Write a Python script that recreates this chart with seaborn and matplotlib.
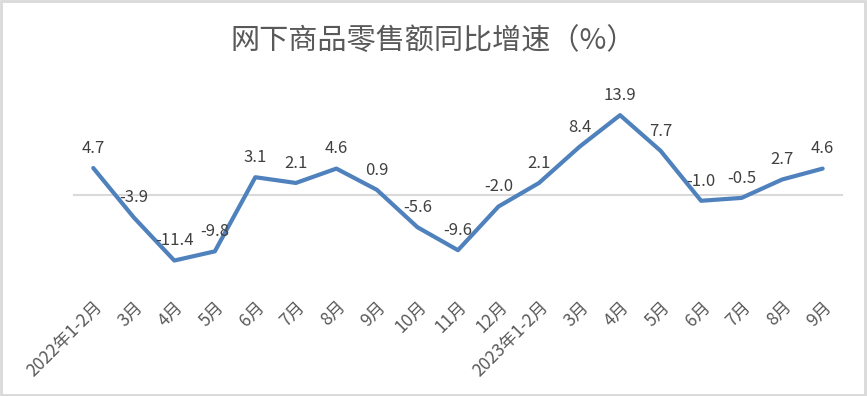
import numpy as np
import pandas as pd
import matplotlib.pyplot as plt
import seaborn as sns
from matplotlib.patches import Rectangle

#---------------------------------------------------------
months=['2022年1-2月', '3月', '4月', '5月', '6月', '7月', '8月', '9月', '10月', '11月', '12月',
	'2023年1-2月', '3月', '4月', '5月', '6月', '7月', '8月', '9月']
growth=[4.7, -3.9, -11.4, -9.8, 3.1, 2.1, 4.6, 0.9, -5.6, -9.6, -2.0,
	2.1, 8.4, 13.9, 7.7, -1.0, -0.5, 2.7, 4.6]
title='网下商品零售额同比增速（%）'

#--------------------------------------------------------
sns.set_style('white')
plt.rcParams['font.family']=['Noto Sans CJK SC', 'DejaVu Sans']

df=pd.DataFrame({'pos': np.arange(len(growth)), 'val': growth})

fig=plt.figure(figsize=(8.67, 3.96), dpi=100)
ax=fig.add_axes([0.0842, 0.255, 0.888, 0.505])

#zero line
ax.axhline(0, color='#d9d9d9', lw=1.5, zorder=1)

#plot
sns.lineplot(x='pos', y='val', data=df, color='#4f81bd', lw=3, ax=ax, zorder=3)

#labels
for i in range(df.shape[0]):
	ax.annotate(f'{growth[i]:.1f}', (i, growth[i]), xytext=(0, 8), textcoords='offset points',
		ha='center', va='bottom', fontsize=12, color='#404040', zorder=4)

#adjust
ax.set_xlim(-0.5, len(growth)-0.5)
ax.set_ylim(-17.4, 17.4)
ax.set_xticks(df['pos'])
ax.set_xticklabels(months, rotation=45, ha='right', rotation_mode='anchor', fontsize=12.5, color='#595959')
ax.tick_params(axis='x', length=0, pad=2)
ax.set_yticks([])
ax.set_xlabel('')
ax.set_ylabel('')
for s in ax.spines.values():
	s.set_visible(False)

fig.text(0.5, 0.895, title, ha='center', va='center', fontsize=21, color='#595959')

#border
fig.patches.append(Rectangle((0.001, 0.002), 0.997, 0.995, transform=fig.transFigure,
	fill=False, edgecolor='#d9d9d9', lw=2))

#save
plt.savefig('out.png', dpi=100)
plt.close()
